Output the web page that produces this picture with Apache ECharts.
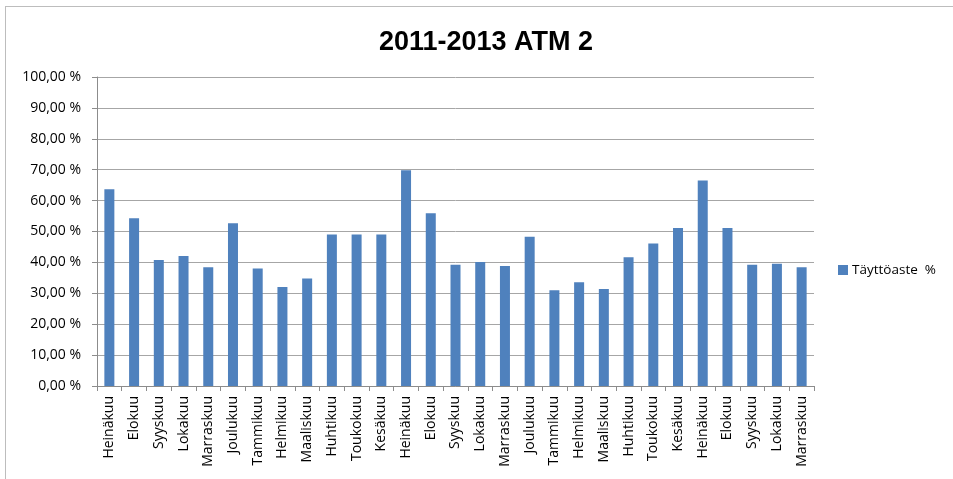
<!DOCTYPE html>
<html>
<head>
<meta charset="utf-8">
<script src="https://cdn.jsdelivr.net/npm/echarts@6/dist/echarts.min.js"></script>
<style>
  html, body { margin: 0; padding: 0; background: #fff; }
  #frame { position: absolute; left: 5px; top: 6px; width: 960px; height: 480px; border: 1px solid #bdbdbd; box-sizing: border-box; }
  #chart { position: absolute; left: 0; top: 0; width: 953px; height: 479px; }
</style>
</head>
<body>
<div id="frame"></div>
<div id="chart"></div>
<script>
// Months July 2011 – November 2013
const months = [
  'Heinäkuu', 'Elokuu', 'Syyskuu', 'Lokakuu', 'Marraskuu', 'Joulukuu',
  'Tammikuu', 'Helmikuu', 'Maaliskuu', 'Huhtikuu', 'Toukokuu', 'Kesäkuu',
  'Heinäkuu', 'Elokuu', 'Syyskuu', 'Lokakuu', 'Marraskuu', 'Joulukuu',
  'Tammikuu', 'Helmikuu', 'Maaliskuu', 'Huhtikuu', 'Toukokuu', 'Kesäkuu',
  'Heinäkuu', 'Elokuu', 'Syyskuu', 'Lokakuu', 'Marraskuu'
];
// Occupancy rate, percent
const occupancy = [
  63.7, 54.3, 40.8, 42.1, 38.4, 52.7,
  38.0, 32.0, 34.8, 49.0, 49.0, 49.0,
  69.8, 55.9, 39.2, 40.1, 38.8, 48.3,
  31.0, 33.6, 31.4, 41.7, 46.1, 51.1,
  66.5, 51.1, 39.2, 39.6, 38.4
];
const seriesName = 'Täyttöaste  %';
const titleText = '2011-2013 ATM 2';

const chart = echarts.init(document.getElementById('chart'), null, { renderer: 'canvas' });
const fmt = v => v.toFixed(2).replace('.', ',') + ' %';
const labelFont = 'Open Sans, sans-serif';

chart.setOption({
  animation: false,
  backgroundColor: 'transparent',
  title: {
    text: titleText,
    left: 481,
    textAlign: 'center',
    top: 24,
    textStyle: { fontFamily: 'Liberation Sans, Arial, sans-serif', fontWeight: 'bold', fontSize: 27, color: '#000' }
  },
  legend: {
    left: 838,
    top: 263,
    padding: 0,
    itemWidth: 10,
    itemHeight: 10,
    itemGap: 4,
    icon: 'rect',
    textStyle: { fontFamily: labelFont, fontSize: 13.5, color: '#000', padding: [0, 0, 0, -1] },
    data: [seriesName]
  },
  grid: { left: 97, right: 139, top: 77, bottom: 93, containLabel: false },
  xAxis: {
    type: 'category',
    data: months,
    boundaryGap: true,
    axisLine: { lineStyle: { color: '#8c8c8c', width: 1 } },
    axisTick: { show: true, alignWithLabel: false, length: 5, lineStyle: { color: '#8c8c8c' } },
    axisLabel: {
      interval: 0,
      rotate: 90,
      margin: 10,
      fontFamily: labelFont,
      fontSize: 14,
      color: '#000'
    }
  },
  yAxis: {
    type: 'value',
    min: 0,
    max: 100,
    interval: 10,
    axisLine: { show: true, lineStyle: { color: '#8c8c8c', width: 1 } },
    axisTick: { show: true, length: 5, lineStyle: { color: '#8c8c8c' } },
    splitLine: { lineStyle: { color: '#a6a6a6', width: 1 } },
    axisLabel: {
      formatter: fmt,
      margin: 16,
      fontFamily: labelFont,
      fontSize: 14,
      color: '#000'
    }
  },
  series: [{
    name: seriesName,
    type: 'bar',
    data: occupancy,
    barWidth: 10,
    itemStyle: { color: '#4f81bd' }
  }]
});
</script>
</body>
</html>
